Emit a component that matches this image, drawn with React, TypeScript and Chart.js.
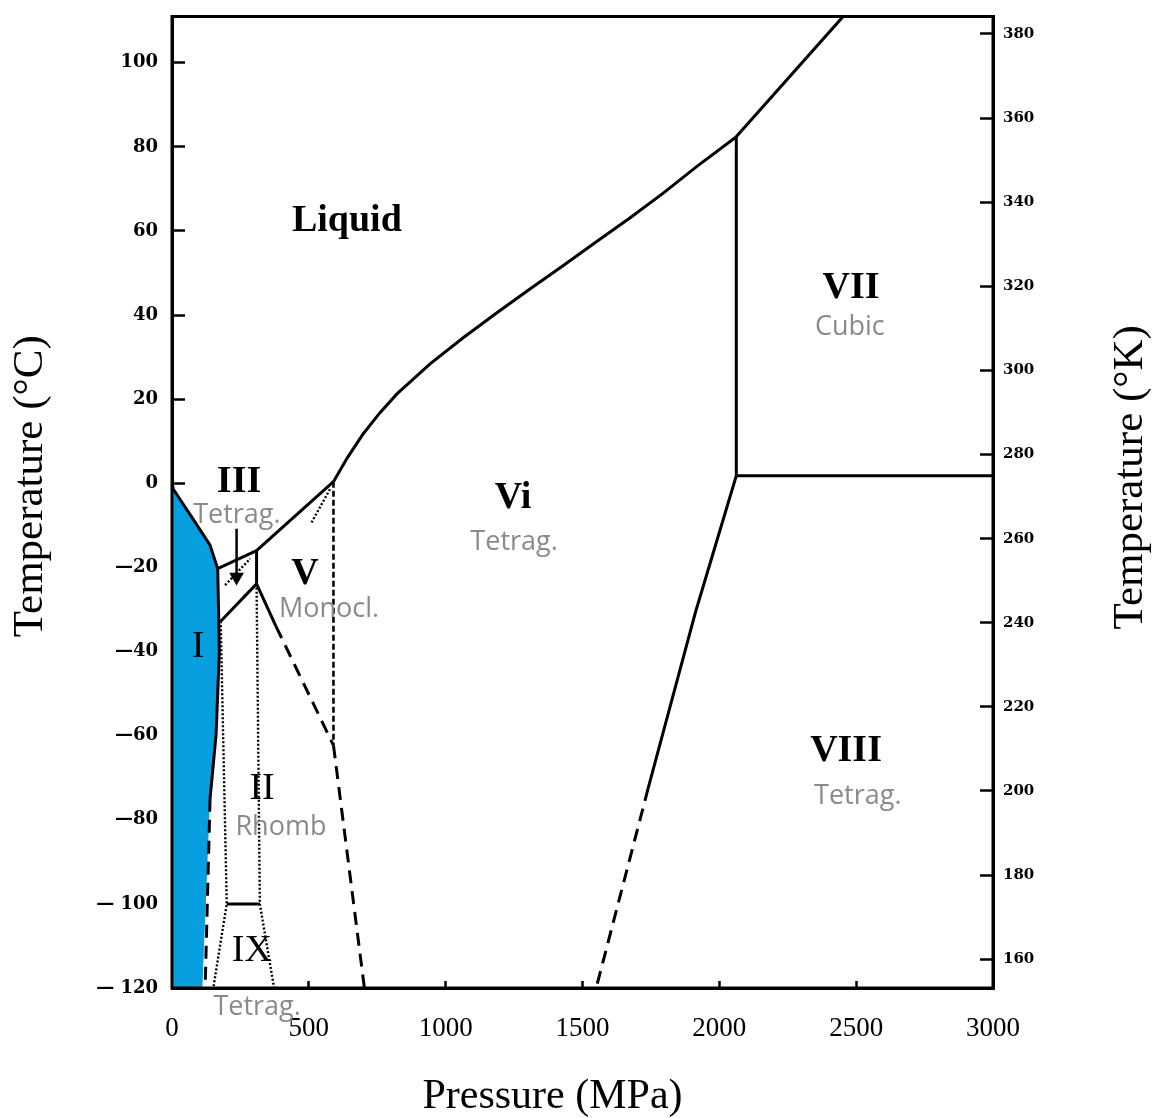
import React, { useEffect, useRef } from 'react';
import { Chart, registerables } from 'chart.js';

Chart.register(...registerables);

// ---- axis ticks ----
const xTickValues = [0, 500, 1000, 1500, 2000, 2500, 3000];
const xTickLabels = ['0', '500', '1000', '1500', '2000', '2500', '3000'];
const yTickValuesC = [-120, -100, -80, -60, -40, -20, 0, 20, 40, 60, 80, 100];
const yTickLabelsC = ['— 120', '— 100', '—80', '—60', '—40', '—20', '0', '20', '40', '60', '80', '100'];
const yTickValuesK = [160, 180, 200, 220, 240, 260, 280, 300, 320, 340, 360, 380];
const yTickLabelsK = ['160', '180', '200', '220', '240', '260', '280', '300', '320', '340', '360', '380'];

const T_MIN = -120;
const T_MAX = 111;
const P_MIN = 0;
const P_MAX = 3000;

// ---- phase boundaries (pressure MPa, temperature °C) ----
const iceIRegion = [
  { x: 0, y: -0.8 }, { x: 5, y: -1.4 }, { x: 77, y: -8.5 }, { x: 139, y: -14.7 }, { x: 167, y: -20.3 },
  { x: 172, y: -40 }, { x: 159, y: -59.8 }, { x: 137, y: -75 }, { x: 109, y: -120 }, { x: 0, y: -120 },
];
const meltIceI = [{ x: 0, y: 0 }, { x: 5, y: -1.4 }, { x: 77, y: -8.5 }, { x: 139, y: -14.7 }, { x: 167, y: -20.3 }];
const meltIceIII = [{ x: 167, y: -20.3 }, { x: 309, y: -16.0 }];
const meltIceV = [{ x: 309, y: -16.0 }, { x: 590, y: 0.4 }];
const meltIceVI = [
  { x: 590, y: 0.4 }, { x: 640, y: 6.0 }, { x: 699, y: 11.8 }, { x: 760, y: 16.8 }, { x: 821, y: 21.2 },
  { x: 943, y: 28.4 }, { x: 1064, y: 34.6 }, { x: 1186, y: 40.5 }, { x: 1308, y: 46.2 }, { x: 1430, y: 51.8 },
  { x: 1552, y: 57.5 }, { x: 1673, y: 63.1 }, { x: 1795, y: 69.0 }, { x: 1917, y: 75.3 }, { x: 2060, y: 82.3 },
];
const meltIceVII = [{ x: 2060, y: 82.3 }, { x: 2455, y: 111.2 }];
const boundaryVI_VII = [{ x: 2062, y: 82.3 }, { x: 2062, y: 1.8 }];
const boundaryVII_VIII = [{ x: 2062, y: 1.8 }, { x: 3000, y: 1.8 }];
const boundaryVI_VIII = [{ x: 2062, y: 1.8 }, { x: 1913, y: -30.6 }, { x: 1740, y: -72.5 }];
const boundaryVI_VIII_ext = [{ x: 1740, y: -72.5 }, { x: 1550, y: -120 }];
const boundaryI_II = [{ x: 167, y: -20.3 }, { x: 173, y: -40 }, { x: 161, y: -59.8 }, { x: 139, y: -75 }];
const boundaryI_II_ext = [{ x: 139, y: -75 }, { x: 121, y: -120 }];
const boundaryIII_V = [{ x: 309, y: -16.0 }, { x: 309, y: -23.9 }];
const boundaryIII_II = [{ x: 309, y: -23.9 }, { x: 178, y: -32.8 }];
const boundaryII_V = [{ x: 309, y: -23.9 }, { x: 380, y: -34 }];
const boundaryII_V_ext = [{ x: 380, y: -34 }, { x: 590, y: -62.3 }];
const boundaryV_VI = [{ x: 590, y: 0.4 }, { x: 590, y: -62.3 }];
const boundaryII_VI = [{ x: 590, y: -62.3 }, { x: 703, y: -120 }];
const boundaryII_IX = [{ x: 200, y: -100 }, { x: 321, y: -100 }];
const dottedLeft = [{ x: 178, y: -32.8 }, { x: 200, y: -100 }, { x: 151, y: -120 }];
const dottedRight = [{ x: 309, y: -23.9 }, { x: 321, y: -100 }, { x: 373, y: -120 }];
const dottedIII = [{ x: 194, y: -24.2 }, { x: 286, y: -17.9 }];
const dottedV = [{ x: 577, y: -1.4 }, { x: 510, y: -9.3 }];
const arrowIII = [{ x: 236, y: -10.8 }, { x: 236, y: -22.3 }];

// ---- region labels ----
const phaseNames = ['Liquid', 'III', 'V', 'I', 'II', 'IX', 'Vi', 'VII', 'VIII'];
const phaseP = [639, 245, 486, 95, 329, 292, 1246, 2481, 2463];
const phaseT = [62.4, 0.2, -21.6, -38.9, -72.8, -111.2, -3.6, 46.5, -63.8];
const structNames = ['Tetrag.', 'Monocl.', 'Rhomb', 'Tetrag.', 'Tetrag.', 'Cubic', 'Tetrag.'];
const structP = [237, 574, 398, 311, 1250, 2477, 2506];
const structT = [-7.6, -29.9, -81.8, -124.5, -14, 37.2, -74.5];

const BLUE = '#079fe0';
const lightNames = new Set(['I', 'II', 'IX']);

function lineDs(data: any[], style: 'solid' | 'dashed' | 'fine' | 'dotted') {
  const base: any = {
    data,
    showLine: true,
    borderColor: '#000',
    borderWidth: 3,
    pointRadius: 0,
    fill: false,
    tension: 0,
    order: 1,
    borderCapStyle: 'butt',
  };
  if (style === 'dashed') base.borderDash = [13, 8];
  if (style === 'fine') { base.borderDash = [6, 3]; base.borderWidth = 2.6; }
  if (style === 'dotted') { base.borderDash = [2, 2]; base.borderWidth = 2.4; }
  return base;
}

const textPlugin = {
  id: 'phaseText',
  afterDatasetsDraw(chart: any) {
    const { ctx, chartArea, scales } = chart;
    const xs = scales.x;
    const ys = scales.y;
    ctx.save();
    // frame
    ctx.strokeStyle = '#000';
    ctx.lineWidth = 3;
    ctx.strokeRect(chartArea.left, chartArea.top, chartArea.right - chartArea.left, chartArea.bottom - chartArea.top);
    ctx.textAlign = 'center';
    ctx.textBaseline = 'middle';
    ctx.fillStyle = '#000';
    phaseNames.forEach((name, i) => {
      ctx.font = (lightNames.has(name) ? '' : 'bold ') + '38px "Liberation Serif"';
      ctx.fillText(name, xs.getPixelForValue(phaseP[i]), ys.getPixelForValue(phaseT[i]));
    });
    ctx.fillStyle = '#8a8a8a';
    ctx.font = '27px "Open Sans"';
    structNames.forEach((name, i) => {
      ctx.fillText(name, xs.getPixelForValue(structP[i]), ys.getPixelForValue(structT[i]));
    });
    // axis titles
    ctx.fillStyle = '#000';
    ctx.font = '43px "Liberation Serif"';
    ctx.textBaseline = 'middle';
    ctx.save();
    ctx.translate(23, (chartArea.top + chartArea.bottom) / 2 - 16);
    ctx.rotate(-Math.PI / 2);
    ctx.fillText('Temperature (°C)', 0, 0);
    ctx.restore();
    ctx.save();
    ctx.translate(chartArea.right + 138, (chartArea.top + chartArea.bottom) / 2 - 25);
    ctx.rotate(-Math.PI / 2);
    ctx.fillText('Temperature (°K)', 0, 0);
    ctx.restore();
    ctx.font = '42px "Liberation Serif"';
    ctx.textBaseline = 'alphabetic';
    ctx.fillText('Pressure (MPa)', (chartArea.left + chartArea.right) / 2 - 30, chartArea.bottom + 120);
    ctx.restore();
  },
};

function zeroPad(s: any) {
  s.paddingTop = 0;
  s.paddingBottom = 0;
  s.paddingLeft = 0;
  s.paddingRight = 0;
}

export default function App() {
  const ref = useRef<HTMLCanvasElement | null>(null);
  useEffect(() => {
    if (!ref.current) return;
    const datasets: any[] = [
      lineDs(meltIceI, 'solid'),
      lineDs(meltIceIII, 'solid'),
      lineDs(meltIceV, 'solid'),
      lineDs(meltIceVI, 'solid'),
      lineDs(meltIceVII, 'solid'),
      lineDs(boundaryVI_VII, 'solid'),
      lineDs(boundaryVII_VIII, 'solid'),
      lineDs(boundaryVI_VIII, 'solid'),
      lineDs(boundaryVI_VIII_ext, 'dashed'),
      lineDs(boundaryI_II, 'solid'),
      lineDs(boundaryI_II_ext, 'dashed'),
      lineDs(boundaryIII_V, 'solid'),
      lineDs(boundaryIII_II, 'solid'),
      lineDs(boundaryII_V, 'solid'),
      lineDs(boundaryII_V_ext, 'dashed'),
      lineDs(boundaryV_VI, 'fine'),
      lineDs(boundaryII_VI, 'dashed'),
      lineDs(boundaryII_IX, 'solid'),
      lineDs(dottedLeft, 'dotted'),
      lineDs(dottedRight, 'dotted'),
      lineDs(dottedIII, 'dotted'),
      lineDs(dottedV, 'dotted'),
      {
        ...lineDs(arrowIII, 'solid'),
        borderWidth: 2.5,
        pointRadius: [0, 6],
        pointStyle: 'triangle',
        rotation: 180,
        pointBackgroundColor: '#000',
        pointBorderColor: '#000',
      },
      {
        data: iceIRegion,
        showLine: true,
        fill: 'shape',
        backgroundColor: BLUE,
        borderColor: BLUE,
        borderWidth: 1,
        pointRadius: 0,
        tension: 0,
        order: 10,
      },
    ];
    const chart = new Chart(ref.current, {
      type: 'scatter',
      data: { datasets },
      options: {
        animation: false,
        responsive: false,
        layout: { padding: { top: 6, left: 0, right: 0, bottom: 0 } },
        plugins: { legend: { display: false }, tooltip: { enabled: false } },
        scales: {
          x: {
            type: 'linear',
            position: 'bottom',
            min: P_MIN,
            max: P_MAX,
            afterBuildTicks: (s: any) => { s.ticks = xTickValues.map((v) => ({ value: v })); },
            afterFit: (s: any) => { s.height = 130; zeroPad(s); },
            grid: { drawOnChartArea: false, drawTicks: true, tickLength: -7, tickWidth: 2.5, tickColor: '#000' },
            border: { display: true, color: '#000', width: 3 },
            ticks: {
              color: '#000',
              autoSkip: false,
              maxRotation: 0,
              padding: 32,
              font: { family: 'Liberation Serif', size: 27 },
              callback: (v: any) => xTickLabels[xTickValues.indexOf(Number(v))],
            },
          },
          y: {
            type: 'linear',
            position: 'left',
            min: T_MIN,
            max: T_MAX,
            afterBuildTicks: (s: any) => { s.ticks = yTickValuesC.map((v) => ({ value: v })); },
            afterFit: (s: any) => { s.width = 164; zeroPad(s); },
            grid: { drawOnChartArea: false, drawTicks: true, tickLength: -13, tickWidth: 2.5, tickColor: '#000' },
            border: { display: true, color: '#000', width: 3 },
            ticks: {
              color: '#000',
              autoSkip: false,
              padding: 27,
              font: { family: 'DejaVu Serif', size: 18, weight: 'bold' },
              callback: (v: any) => yTickLabelsC[yTickValuesC.indexOf(Number(v))],
            },
          },
          yK: {
            type: 'linear',
            position: 'right',
            min: T_MIN + 273.15,
            max: T_MAX + 273.15,
            afterBuildTicks: (s: any) => { s.ticks = yTickValuesK.map((v) => ({ value: v })); },
            afterFit: (s: any) => { s.width = 158; zeroPad(s); },
            grid: { drawOnChartArea: false, drawTicks: true, tickLength: -13, tickWidth: 2.5, tickColor: '#000' },
            border: { display: true, color: '#000', width: 3 },
            ticks: {
              color: '#000',
              autoSkip: false,
              padding: 23,
              font: { family: 'DejaVu Serif', size: 15, weight: 'bold' },
              callback: (v: any) => yTickLabelsK[yTickValuesK.indexOf(Number(v))],
            },
          },
        },
      } as any,
      plugins: [textPlugin],
    });
    return () => chart.destroy();
  }, []);
  return (
    <div style={{ width: 1143, height: 1110 }}>
      <canvas ref={ref} width={1143} height={1110} style={{ display: 'block' }} />
    </div>
  );
}
